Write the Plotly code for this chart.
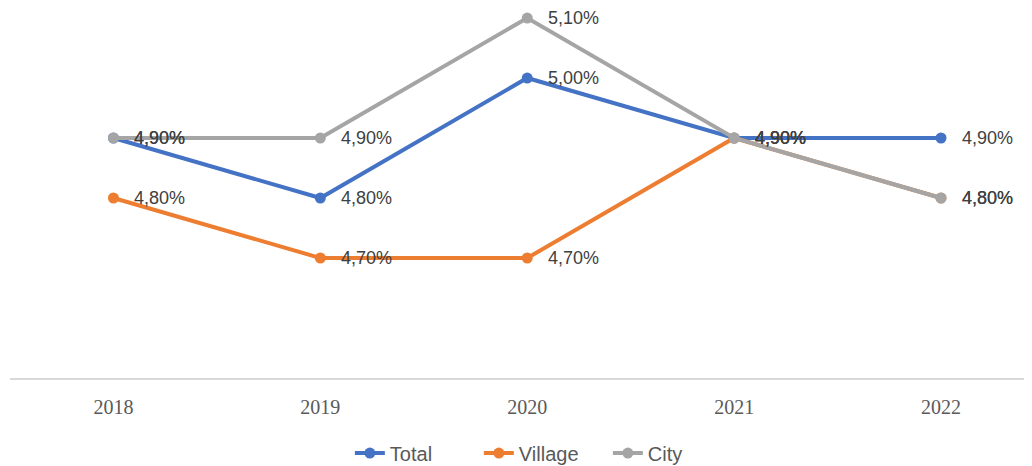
import plotly.graph_objects as go

years = ["2018", "2019", "2020", "2021", "2022"]
total = [4.90, 4.80, 5.00, 4.90, 4.90]
village = [4.80, 4.70, 4.70, 4.90, 4.80]
city = [4.90, 4.90, 5.10, 4.90, 4.80]

series = [("Total", total, "#4472C4"), ("Village", village, "#ED7D31"), ("City", city, "#A5A5A5")]

def fmt(v):
    return f"{v:.2f}%".replace(".", ",")

fig = go.Figure()
annotations = []
for name, vals, color in series:
    fig.add_trace(go.Scatter(
        x=years, y=vals, name=name, mode="lines+markers",
        line=dict(color=color, width=4),
        marker=dict(color=color, size=11),
    ))
    for i, v in enumerate(vals):
        annotations.append(dict(
            x=i, y=v, xref="x", yref="y", text=fmt(v), showarrow=False,
            xanchor="left", yanchor="middle", xshift=19,
            font=dict(family="Liberation Sans, Arial", size=18, color="#404040"),
        ))

fig.update_layout(
    width=1016, height=466,
    margin=dict(l=1.5, r=0, t=0, b=96),
    paper_bgcolor="white", plot_bgcolor="white",
    annotations=annotations,
    showlegend=True,
    legend=dict(orientation="h", x=0.526, xanchor="center", yref="container", y=0.045, yanchor="middle",
                font=dict(family="Liberation Sans, Arial", size=20, color="#595959"),
                itemwidth=30, tracegroupgap=0, entrywidth=84, entrywidthmode="pixels"),
    xaxis=dict(type="category", range=[-0.5, 4.401], showgrid=False, zeroline=False,
               showline=True, linecolor="#D9D9D9", linewidth=1.5, ticks="",
               ticklabelstandoff=10,
               tickfont=dict(family="Liberation Serif, Times New Roman", size=20, color="#595959")),
    yaxis=dict(range=[4.5, 5.1167], visible=False, showgrid=False, zeroline=False),
)

fig.write_html("out.html")
